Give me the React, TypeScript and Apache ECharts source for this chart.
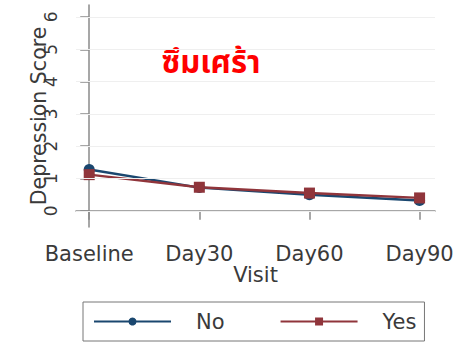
import React, { useEffect, useRef } from "react";
import * as echarts from "echarts";

const categories = ["Baseline", "Day30", "Day60", "Day90"];
const noValues = [1.28, 0.72, 0.5, 0.32];
const yesValues = [1.12, 0.73, 0.55, 0.4];
const yTicks = [0, 1, 2, 3, 4, 5, 6];
const titleText = "ซึมเศร้า";

export default function App() {
  const ref = useRef<HTMLDivElement>(null);
  useEffect(() => {
    const chart = echarts.init(ref.current!, null, { renderer: "svg" });
    const font = "'DejaVu Sans', 'Liberation Sans', Arial, sans-serif";
    chart.setOption({
      animation: false,
      backgroundColor: "#ffffff",
      grid: { left: 76, right: 34, top: 5, bottom: 120, containLabel: false, outerBoundsMode: "none" },
      xAxis: {
        type: "value",
        min: -0.12,
        max: 3.14,
        name: "Visit",
        nameLocation: "middle",
        nameGap: 37,
        nameMoveOverlap: false,
        nameTextStyle: { fontFamily: font, fontSize: 21, color: "#3a3a3a" },
        axisLine: { show: true, lineStyle: { color: "#8a8a8a", width: 1.5 } },
        axisTick: { show: true, length: 9, customValues: categories.map((_, i) => i), lineStyle: { color: "#8a8a8a", width: 1.5 } },
        axisLabel: {
          customValues: categories.map((_, i) => i),
          formatter: (v: number) => categories[Math.round(v)] ?? "",
          fontFamily: font,
          fontSize: 21,
          color: "#3a3a3a",
          margin: 16,
        },
        splitLine: { show: false },
      },
      yAxis: {
        type: "value",
        min: -0.5,
        max: 6.37,
        name: "Depression Score",
        nameLocation: "middle",
        nameGap: 27,
        nameMoveOverlap: false,
        nameTextStyle: { fontFamily: font, fontSize: 20.5, color: "#3a3a3a" },
        axisLine: { show: true, lineStyle: { color: "#8a8a8a", width: 1.5 } },
        axisTick: { show: true, length: 9, customValues: yTicks, lineStyle: { color: "#8a8a8a", width: 1.5 } },
        axisLabel: {
          customValues: yTicks,
          rotate: 90,
          fontFamily: font,
          fontSize: 17,
          color: "#3a3a3a",
          margin: 17,
        },
        splitLine: { show: false },
      },
      graphic: [
        {
          type: "text",
          x: 211,
          y: 48,
          style: {
            text: titleText,
            fill: "#ff0000",
            textAlign: "center",
            textVerticalAlign: "top",
            font: "bold 31px 'Noto Sans Thai', 'Noto Sans', 'DejaVu Sans', sans-serif",
          },
        },
      ],
      legend: {
        left: 83,
        top: 302,
        orient: "horizontal",
        borderColor: "#777",
        borderWidth: 1,
        borderRadius: 0,
        padding: [9, 8, 9, 10],
        itemWidth: 77,
        itemHeight: 10,
        itemGap: 55,
        textStyle: { fontFamily: font, fontSize: 21, color: "#3a3a3a", padding: [0, 0, 0, 20] },
        data: ["No", "Yes"],
      },
      series: [
        {
          name: "No",
          type: "line",
          data: noValues.map((v, i) => [i, v]),
          symbol: "circle",
          symbolSize: 11,
          lineStyle: { color: "#1a476f", width: 2.4 },
          itemStyle: { color: "#1a476f" },
          markLine: {
            silent: true,
            symbol: "none",
            label: { show: false },
            lineStyle: { color: "#efefef", width: 1, type: "solid" },
            data: yTicks.map((t) => ({ yAxis: t })),
          },
        },
        {
          name: "Yes",
          type: "line",
          data: yesValues.map((v, i) => [i, v]),
          symbol: "rect",
          symbolSize: 11,
          lineStyle: { color: "#90353b", width: 2.4 },
          itemStyle: { color: "#90353b" },
        },
      ],
    });
    return () => chart.dispose();
  }, []);
  return <div ref={ref} style={{ width: 469, height: 347, position: "absolute", left: 0, top: 0 }} />;
}
